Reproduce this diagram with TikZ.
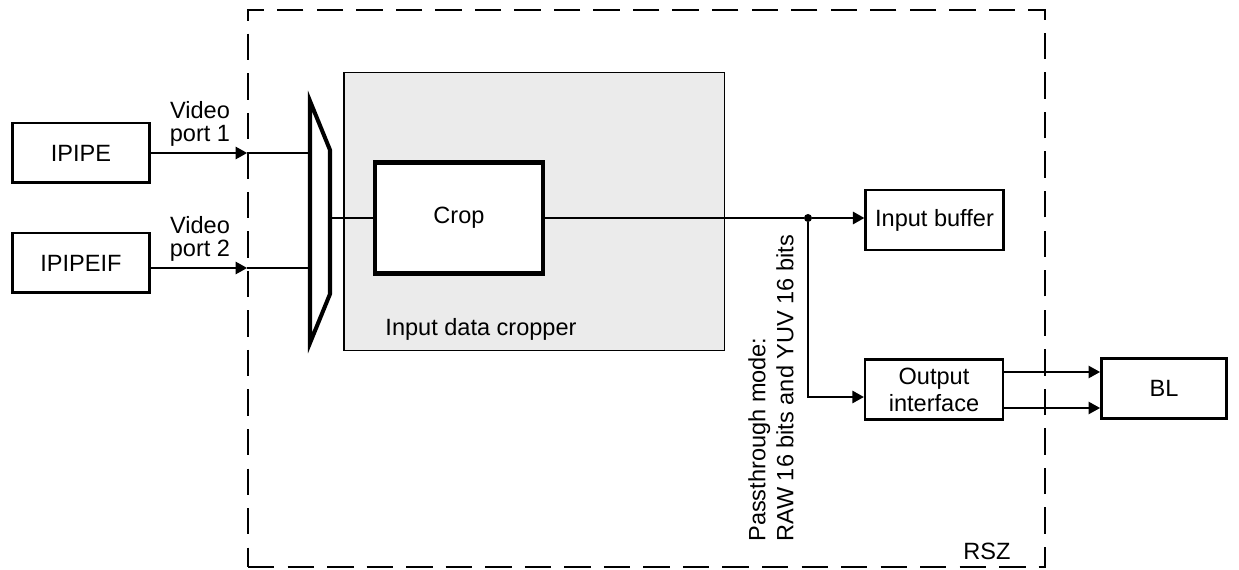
\documentclass[tikz,border=0pt]{standalone}
\usepackage{fontspec}
\setmainfont{Liberation Sans}
\usetikzlibrary{arrows.meta,positioning,calc}
\definecolor{cropgray}{RGB}{235,235,235}

\begin{document}
\begin{tikzpicture}[
  x=0.02cm,y=-0.02cm,
  font=\fontsize{13.4}{15.4}\selectfont,
  blk/.style={draw=black,line width=1.7pt,minimum width=2.75cm,minimum height=1.2cm,inner sep=0pt,align=center},
  thinblk/.style={draw=black,line width=1.3pt,minimum width=2.76cm,minimum height=1.2cm,inner sep=0pt,align=center},
  wire/.style={line width=0.9pt},
  arr/.style={wire,-{Triangle[length=6.5pt,width=7pt]}},
  lbl/.style={inner sep=0pt,align=center},
]
  \useasboundingbox (0,0) rectangle (1239,570);
  % RSZ boundary
  \node[draw,line width=1.1pt,dash pattern=on 15pt off 7.5pt,minimum width=15.94cm,minimum height=11.14cm] (rsz) at (646.5,288.5) {};
  \node[lbl] (rszlbl) at (987,551) {RSZ};
  % sources
  \node[blk] (ipipe) at (81,153) {IPIPE};
  \node[blk] (ipipeif) at (81,263) {IPIPEIF};
  \node[lbl,font=\fontsize{13.4}{13.4}\selectfont] (vp1) at (200,124) {Video\\port 1};
  \node[lbl,font=\fontsize{13.4}{13.4}\selectfont] (vp2) at (200,239) {Video\\port 2};
  % input data cropper
  \node[draw,fill=cropgray,line width=1.1pt,minimum width=7.62cm,minimum height=5.56cm] (cropper) at (534,211.5) {};
  \node[lbl] (cropperlbl) at (481,329) {Input data cropper};
  \node[draw,fill=white,line width=2.3pt,minimum width=3.36cm,minimum height=2.22cm] (crop) at (459,218) {Crop};
  % mux
  \draw[line width=2.3pt] (310,101) -- (330,150) -- (330,294) -- (310,343) -- cycle;
  \coordinate (p1) at (310,153);
  \coordinate (p2) at (310,268);
  \coordinate (mo) at (330,218);
  \draw[arr] (ipipe.east |- p1) -- (p1 -| rsz.west);
  \draw[wire] (p1 -| rsz.west) -- (p1);
  \draw[arr] (ipipeif.east |- p2) -- (p2 -| rsz.west);
  \draw[wire] (p2 -| rsz.west) -- (p2);
  \draw[wire] (mo) -- (crop.west);
  % outputs
  \node[thinblk] (ibuf) at (934.5,220) {Input buffer};
  \node[thinblk] (oif) at (934,389.5) {Output\\interface};
  \node[blk,minimum width=2.5cm] (bl) at (1164,388.5) {BL};
  \node[circle,fill,inner sep=0pt,minimum size=0.16cm] (dot) at (808,218) {};
  \coordinate (bend) at (808,397);
  \draw[line width=1.1pt] (crop.east) -- (dot);
  \draw[arr,line width=1.1pt] (dot) -- (ibuf.west |- dot);
  \draw[arr] (dot) -- (bend) -- (oif.west |- bend);
  \draw[arr] ([yshift=0.35cm]oif.east) -- ([yshift=0.35cm]oif.east -| bl.west);
  \draw[arr] ([yshift=-0.37cm]oif.east) -- ([yshift=-0.37cm]oif.east -| bl.west);
  \node[rotate=90,anchor=west,inner sep=0pt,align=left,font=\fontsize{13.4}{16}\selectfont] (pass) at (771,542) {Passthrough mode:\\RAW 16 bits and YUV 16 bits};
\end{tikzpicture}
\end{document}
